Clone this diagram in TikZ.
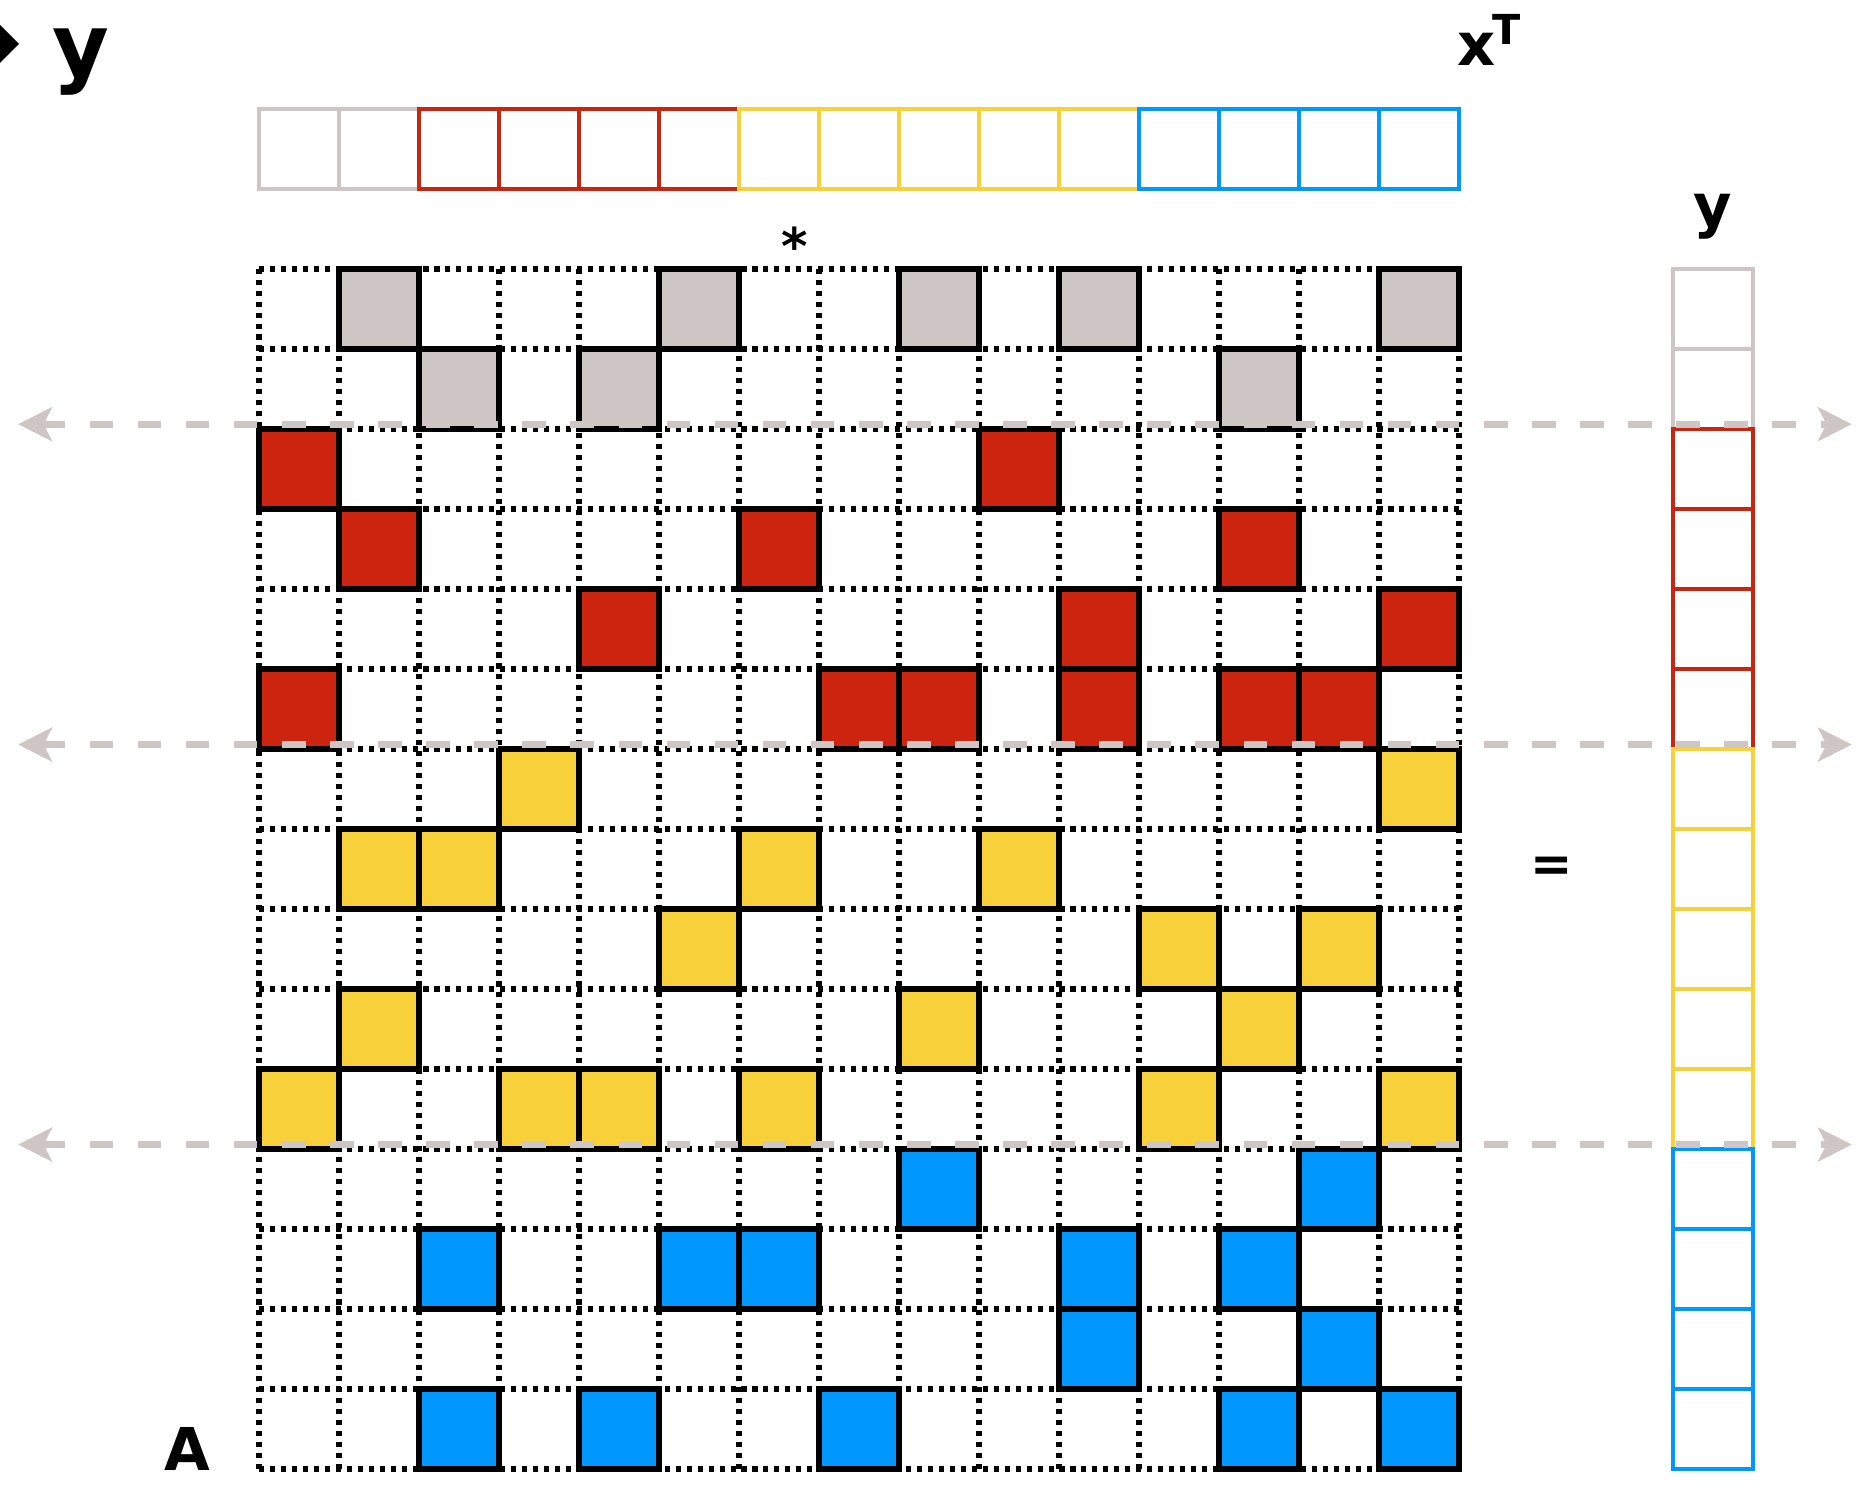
\documentclass[tikz,border=0pt]{standalone}
\usepackage{fontspec}
\setmainfont{DejaVu Sans}
\usetikzlibrary{arrows.meta}

\definecolor{cgray}{RGB}{206,198,197}
\definecolor{cred}{RGB}{204,36,14}
\definecolor{cyellow}{RGB}{247,208,58}
\definecolor{cblue}{RGB}{0,152,255}

\begin{document}
\begin{tikzpicture}[x=1cm,y=-1cm,
  dotgrid/.style={line width=1.8pt,dash pattern=on 1.8pt off 2.1pt},
  entry/.style={draw=black,line width=2.1pt},
  vecbox/.style={line width=1.7pt},
  split/.style={cgray,line width=2.5pt,dash pattern=on 8.4pt off 8.7pt,
    {Stealth[length=12pt,width=12pt,inset=3pt]}-{Stealth[length=12pt,width=12pt,inset=3pt]}},
  lbl/.style={font=\bfseries\fontsize{21}{21}\selectfont,inner sep=0pt}]
\useasboundingbox (0,0) rectangle (23.2,18.5625);

\begin{scope}[shift={(3.2375,3.3625)}]
% Matrix A
\draw[dotgrid] (0,0) grid (15,15);
\foreach \r/\cols/\c in {1/{2,6,9,11,15}/cgray, 2/{3,5,13}/cgray,
    3/{1,10}/cred, 4/{2,7,13}/cred, 5/{5,11,15}/cred, 6/{1,8,9,11,13,14}/cred,
    7/{4,15}/cyellow, 8/{2,3,7,10}/cyellow, 9/{6,12,14}/cyellow,
    10/{2,9,13}/cyellow, 11/{1,4,5,7,12,15}/cyellow,
    12/{9,14}/cblue, 13/{3,6,7,11,13}/cblue, 14/{11,14}/cblue, 15/{3,5,8,13,15}/cblue}
  \foreach \k in \cols
    \draw[entry,fill=\c] (\k-1,\r-1) rectangle (\k,\r);

% Vector x^T and vector y
\foreach \k/\c in {1/cgray,2/cgray,3/cred,4/cred,5/cred,6/cred,7/cyellow,8/cyellow,
    9/cyellow,10/cyellow,11/cyellow,12/cblue,13/cblue,14/cblue,15/cblue} {
  \draw[vecbox,draw=\c] (\k-1,-2) rectangle (\k,-1);
  \draw[vecbox,draw=\c] (17.675,\k-1) rectangle (18.675,\k);
}

% Block boundaries
\foreach \i/\h in {1/1.94, 2/5.945, 3/10.945} {
  \coordinate (cutL\i) at (-3.01,\h);
  \coordinate (cutR\i) at (19.91,\h);
  \draw[split] (cutL\i) -- (cutR\i);
}

% Labels
\fill (-3.2375,-3.05) -- (-3.0,-2.8125) -- (-3.2375,-2.575) -- cycle;
\node[lbl,font=\bfseries\fontsize{31}{31}\selectfont,anchor=base] (ylegend) at (-2.23,-2.41) {y};
\node[lbl,anchor=base west] (xT) at (14.97,-2.54) {x\kern-1pt\textsuperscript{T}};
\node[lbl,font=\bfseries\fontsize{18}{18}\selectfont,anchor=base] (star) at (6.7,-0.06) {*};
\node[lbl,anchor=base] (yvec) at (18.175,-0.53) {y};
\node[lbl,font=\bfseries\fontsize{18}{18}\selectfont,anchor=base] (eq) at (16.16,7.65) {=};
\node[lbl,anchor=base] (Amat) at (-0.9,15.02) {A};
\end{scope}
\end{tikzpicture}
\end{document}
